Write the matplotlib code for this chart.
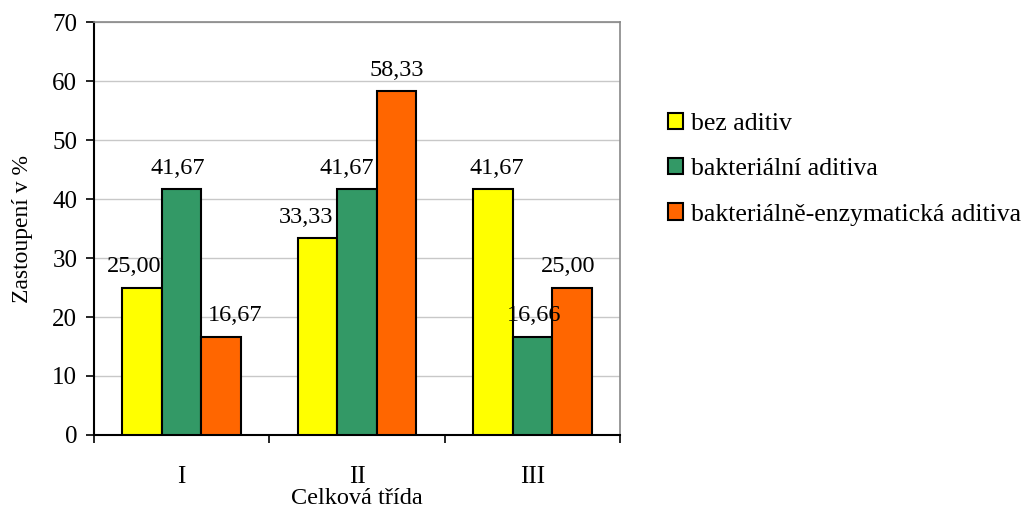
import matplotlib
matplotlib.use("Agg")
import matplotlib.pyplot as plt
import numpy as np

plt.rcParams['font.family'] = ['Liberation Serif', 'DejaVu Serif']

categories = ["I", "II", "III"]
series_names = ["bez aditiv", "bakteriální aditiva", "bakteriálně-enzymatická aditiva"]
bez_aditiv = [25.00, 33.33, 41.67]
bakterialni = [41.67, 41.67, 16.66]
bakt_enzym = [16.67, 58.33, 25.00]
colors = ["#FFFF00", "#339966", "#FF6600"]
# small horizontal nudges of the value labels (points), as placed in the original
label_nudge = [[-6, -8, 3], [-3, -7, 1], [10, 0, -3]]

fig = plt.figure(figsize=(10.34, 5.12), dpi=100)
ax = fig.add_axes([0.0909, 0.1504, 0.5087, 0.8066])

x = np.arange(len(categories))
w = 0.226
data = [bez_aditiv, bakterialni, bakt_enzym]
for k, (vals, name, c) in enumerate(zip(data, series_names, colors)):
    pos = x + (k - 1) * w
    ax.bar(pos, vals, width=w, color=c, edgecolor="black", linewidth=1.5,
           label=name, zorder=3)
    for px, v, dx in zip(pos, vals, label_nudge[k]):
        ax.annotate(f"{v:.2f}".replace(".", ","), (px, v), xytext=(dx, 11),
                    textcoords="offset points", ha="center", va="baseline",
                    fontsize=17.5, zorder=4)

ax.set_xlim(-0.5, 2.5)
ax.set_ylim(0, 70)
ax.set_yticks(range(0, 71, 10))
ax.set_xticks(x)
ax.set_xticklabels(categories)
ax.set_xticks([-0.5, 0.5, 1.5, 2.5], minor=True)
ax.tick_params(axis="x", which="major", length=0, pad=22, labelsize=18)
ax.tick_params(axis="x", which="minor", length=6, width=1.2, direction="out")
ax.tick_params(axis="y", length=6, width=1.2, direction="out", labelsize=18,
               pad=6)
ax.yaxis.grid(True, color="#c8c8c8", linewidth=1, zorder=0)
ax.set_axisbelow(True)

for s in ["left", "bottom"]:
    ax.spines[s].set_linewidth(1.5)
    ax.spines[s].set_color("black")
for s in ["top", "right"]:
    ax.spines[s].set_linewidth(1.2)
    ax.spines[s].set_color("#888888")

ax.set_xlabel("Celková třída", fontsize=17.5, labelpad=0)
ax.set_ylabel("Zastoupení v %", fontsize=17, labelpad=14)

fig.legend(loc="upper left", bbox_to_anchor=(0.636, 0.80), frameon=False,
           fontsize=18.5, handlelength=0.6, handleheight=0.6, handletextpad=0.3,
           labelspacing=0.9, borderaxespad=0)

fig.savefig("out.png", dpi=100)
